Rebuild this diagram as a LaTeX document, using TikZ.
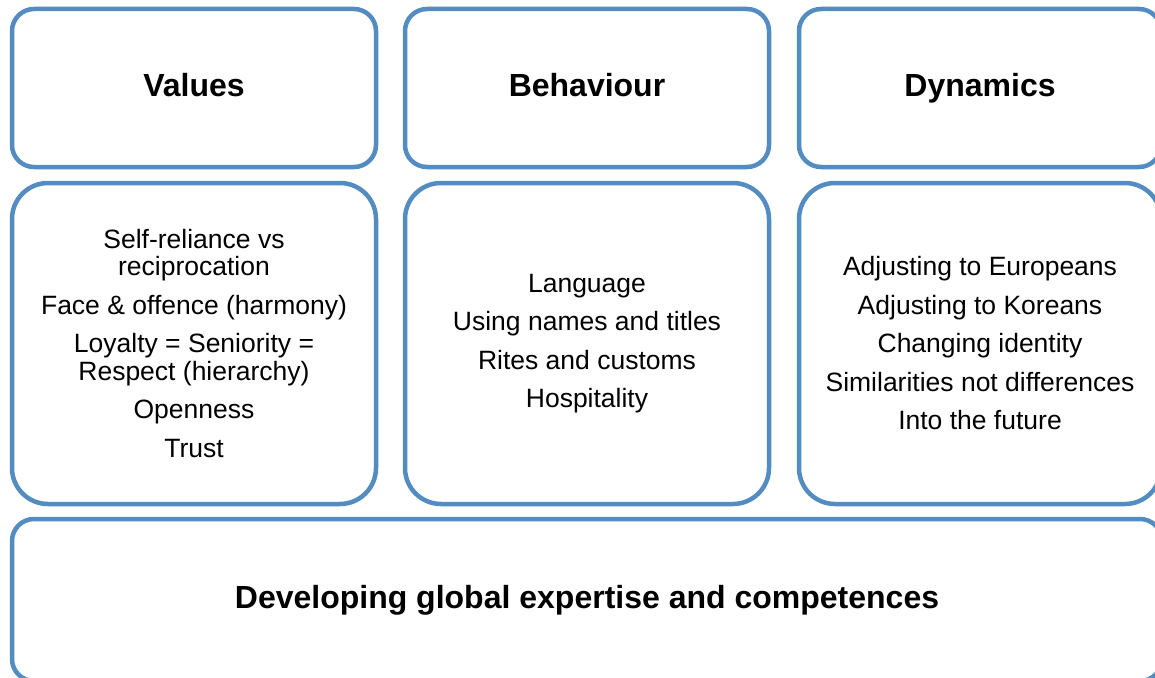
\documentclass[tikz,border=0pt]{standalone}
\usepackage{fontspec}
\setmainfont{Liberation Sans}
\definecolor{boxblue}{RGB}{83,140,193}
\begin{document}
\begin{tikzpicture}[x=1pt, y=-1pt, line join=round,
    box/.style={draw=boxblue, line width=4.5pt, rounded corners=22pt, align=center, inner sep=0pt},
    head/.style={box, minimum height=158pt, font=\fontsize{32}{38}\selectfont\bfseries, text height=23pt, text depth=7pt},
    items/.style={box, minimum height=321pt, rounded corners=36pt, font=\fontsize{26.5}{27.5}\selectfont}]
    \clip (0,0) rectangle (1155,677);
    % column headings
    \node[head, minimum width=364pt] (values) at (194,88) {Values};
    \node[head, minimum width=364pt] (behaviour) at (587,88) {Behaviour};
    \node[head, minimum width=362pt] (dynamics) at (980,88) {Dynamics};
    % column contents
    \node[items, minimum width=364pt] (valuelist) at (194,343.5) {Self-reliance vs\\ reciprocation\\[11pt]
        Face \& offence (harmony)\\[11pt] Loyalty = Seniority =\\ Respect (hierarchy)\\[11pt]
        Openness\\[11pt] Trust};
    \node[items, minimum width=364pt] (behaviourlist) at (587,343.5) {Language\\[11pt]
        Using names and titles\\[11pt] Rites and customs\\[11pt] Hospitality};
    \node[items, minimum width=362pt] (dynamicslist) at (980,343.5) {Adjusting to Europeans\\[11pt]
        Adjusting to Koreans\\[11pt] Changing identity\\[11pt] Similarities not differences\\[11pt]
        Into the future};
    % base row
    \node[box, minimum width=1150pt, minimum height=162pt, font=\fontsize{32}{40}\selectfont\bfseries,
        text height=23pt, text depth=7pt] (global) at (587,600) {Developing global expertise and competences};
\end{tikzpicture}
\end{document}
